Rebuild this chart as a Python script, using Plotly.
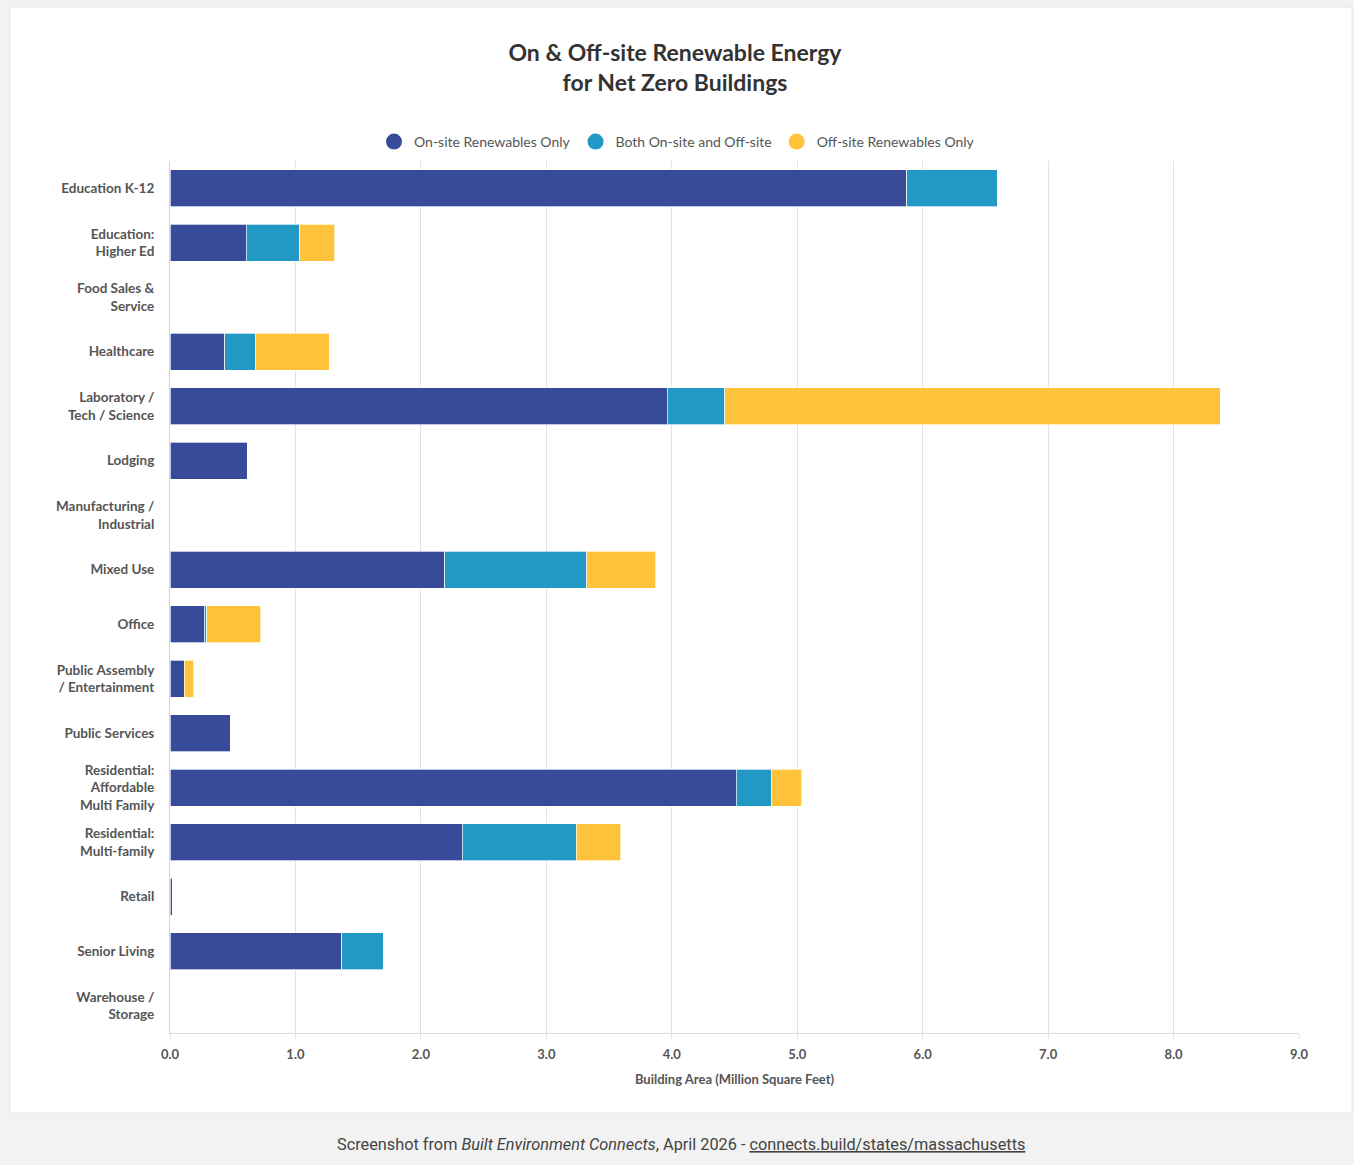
import plotly.graph_objects as go

categories = [
    "Education K-12", "Education:<br>Higher Ed", "Food Sales &<br>Service", "Healthcare",
    "Laboratory /<br>Tech / Science", "Lodging", "Manufacturing /<br>Industrial", "Mixed Use",
    "Office", "Public Assembly<br>/ Entertainment", "Public Services",
    "Residential:<br>Affordable<br>Multi Family", "Residential:<br>Multi-family", "Retail",
    "Senior Living", "Warehouse /<br>Storage",
]
onsite_only = [5.875, 0.606, 0, 0.438, 3.962, 0.614, 0, 2.192, 0.273, 0.114, 0.486, 4.512, 2.328, 0.016, 1.371, 0]
both_on_off = [0.718, 0.430, 0, 0.240, 0.462, 0, 0, 1.132, 0.019, 0, 0, 0.279, 0.909, 0, 0.327, 0]
offsite_only = [0, 0.279, 0, 0.590, 3.947, 0, 0, 0.550, 0.433, 0.075, 0, 0.247, 0.358, 0, 0, 0]

series_names = ["On-site Renewables Only", "Both On-site and Off-site", "Off-site Renewables Only"]
colors = ["#374B9A", "#2199C4", "#FEC33A"]
x_ticks = [0, 1, 2, 3, 4, 5, 6, 7, 8, 9]

FONT = "Lato, 'Open Sans', sans-serif"

fig = go.Figure()
for name, vals, col in zip(series_names, [onsite_only, both_on_off, offsite_only], colors):
    fig.add_trace(go.Bar(
        y=categories, x=vals, orientation="h", name=name,
        marker=dict(color=col, line=dict(color="rgba(255,255,255,0.85)", width=0.8)),
        showlegend=False,
    ))
for name, col in zip(series_names, colors):
    fig.add_trace(go.Scatter(
        x=[None], y=[None], mode="markers", name=name,
        marker=dict(color=col, size=18, symbol="circle"),
        showlegend=True,
    ))

W, H = 1354, 1165
L, R, T, B = 170, 55, 161, 132
pw, ph = W - L - R, H - T - B

def px(xp):
    return (xp - L) / pw

def py(yp):
    return (H - B - yp) / ph

fig.update_layout(
    width=W, height=H,
    margin=dict(l=L, r=R, t=T, b=B, autoexpand=False),
    paper_bgcolor="#F2F2F2",
    plot_bgcolor="white",
    barmode="stack",
    bargap=0.32,
    font=dict(family=FONT, color="#555555"),
    title=dict(
        text="<b>On &amp; Off-site Renewable Energy<br>for Net Zero Buildings</b>",
        x=0.4985, xanchor="center", y=1 - 61 / H, yanchor="middle",
        font=dict(size=23, color="#333333", family=FONT),
    ),
    legend=dict(
        orientation="h", xref="container", yref="container",
        x=0.5, xanchor="center", y=1 - 142 / H, yanchor="middle",
        font=dict(size=14, color="#555555", family=FONT),
        itemsizing="trace", bgcolor="rgba(0,0,0,0)", traceorder="normal",
        itemwidth=30,
    ),
    xaxis=dict(
        range=[0, 9], tickvals=x_ticks, tickformat=".1f",
        showgrid=True, gridcolor="#E2E2E2", gridwidth=1,
        showline=True, linecolor="#DDDDDD", linewidth=1,
        ticks="outside", ticklen=5, tickcolor="#E2E2E2",
        ticklabelstandoff=4,
        tickfont=dict(size=13, color="#555555", family=FONT, weight="bold"),
        title=dict(text="<b>Building Area (Million Square Feet)</b>", font=dict(size=13, color="#555555"), standoff=14),
        zeroline=False, fixedrange=True,
    ),
    yaxis=dict(
        autorange="reversed", type="category",
        showline=True, linecolor="#D5D5D5", linewidth=1,
        showgrid=False, ticks="",
        tickfont=dict(size=13.5, color="#555555", family=FONT, weight="bold"),
        ticklabelstandoff=12,
    ),
    shapes=[
        dict(type="rect", xref="paper", yref="paper", layer="below",
             x0=px(10), x1=px(1352), y0=py(1113), y1=py(7),
             fillcolor="white", line=dict(color="#E6E6E6", width=1)),
    ],
    annotations=[
        dict(xref="paper", yref="paper", x=px(681), y=py(1144), xanchor="center", yanchor="middle",
             showarrow=False,
             text="Screenshot from <i>Built Environment Connects</i>, April 2026 - <u>connects.build/states/massachusetts</u>",
             font=dict(size=16.3, color="#444444", family="Roboto, Arial, sans-serif")),
    ],
)

fig.write_html("out.html")
